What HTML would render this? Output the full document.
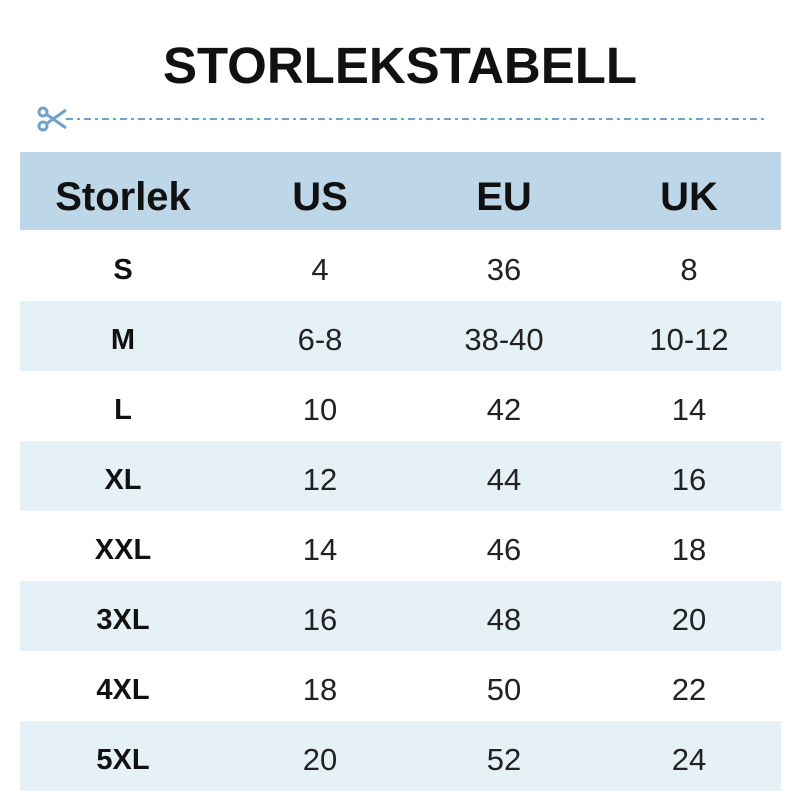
<!DOCTYPE html>
<html><head><style>
body{margin:0;width:800px;height:800px;background:#fff;font-family:"Liberation Sans",Arial,sans-serif;position:relative;overflow:hidden}
.t{position:absolute;top:36px;left:0;width:800px;text-align:center;font-size:51px;font-weight:bold;color:#111}
.row{position:absolute;left:20px;width:761px;height:70px}
.c{position:absolute;top:4px;height:100%;display:flex;align-items:center;justify-content:center;width:180px;font-size:31px;color:#222}
.h .c{font-size:40px;font-weight:bold;color:#111;top:6px}
.b{font-weight:bold;color:#111;font-size:29px!important}
</style></head><body>
<div class="t">STORLEKSTABELL</div>
<svg style="position:absolute;left:0;top:100px" width="800" height="40">
<g stroke="#6fa3cc" stroke-width="3" fill="none">
<circle cx="43" cy="26" r="4"/><circle cx="43" cy="12" r="4"/>
<line x1="46" y1="24" x2="66" y2="10"/><line x1="46" y1="14" x2="66" y2="28"/>
</g>
<line x1="66" y1="19" x2="765" y2="19" stroke="#6fa3cc" stroke-width="2" stroke-dasharray="7,4,3,4"/>
</svg>
<div class="row h" style="top:152px;height:78px;background:#bdd7e9">
<div class="c" style="left:13px">Storlek</div><div class="c" style="left:210px">US</div><div class="c" style="left:394px">EU</div><div class="c" style="left:579px">UK</div></div>
<div class="row" style="top:231px"><div class="c b" style="left:13px">S</div><div class="c" style="left:210px">4</div><div class="c" style="left:394px">36</div><div class="c" style="left:579px">8</div></div>
<div class="row" style="top:301px;background:#e6f0f7"><div class="c b" style="left:13px">M</div><div class="c" style="left:210px">6-8</div><div class="c" style="left:394px">38-40</div><div class="c" style="left:579px">10-12</div></div>
<div class="row" style="top:371px"><div class="c b" style="left:13px">L</div><div class="c" style="left:210px">10</div><div class="c" style="left:394px">42</div><div class="c" style="left:579px">14</div></div>
<div class="row" style="top:441px;background:#e6f0f7"><div class="c b" style="left:13px">XL</div><div class="c" style="left:210px">12</div><div class="c" style="left:394px">44</div><div class="c" style="left:579px">16</div></div>
<div class="row" style="top:511px"><div class="c b" style="left:13px">XXL</div><div class="c" style="left:210px">14</div><div class="c" style="left:394px">46</div><div class="c" style="left:579px">18</div></div>
<div class="row" style="top:581px;background:#e6f0f7"><div class="c b" style="left:13px">3XL</div><div class="c" style="left:210px">16</div><div class="c" style="left:394px">48</div><div class="c" style="left:579px">20</div></div>
<div class="row" style="top:651px"><div class="c b" style="left:13px">4XL</div><div class="c" style="left:210px">18</div><div class="c" style="left:394px">50</div><div class="c" style="left:579px">22</div></div>
<div class="row" style="top:721px;background:#e6f0f7"><div class="c b" style="left:13px">5XL</div><div class="c" style="left:210px">20</div><div class="c" style="left:394px">52</div><div class="c" style="left:579px">24</div></div>
</body></html>
